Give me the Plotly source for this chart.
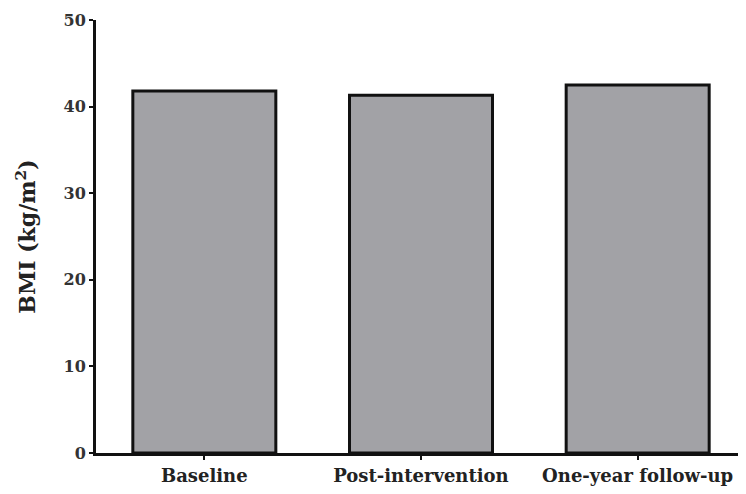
import plotly.graph_objects as go

categories = ["Baseline", "Post-intervention", "One-year follow-up"]
bmi_values = [41.8, 41.3, 42.5]
y_ticks = [0, 10, 20, 30, 40, 50]

fig = go.Figure()
fig.add_trace(go.Bar(
    x=categories,
    y=bmi_values,
    width=0.66,
    marker=dict(color="#a2a2a6", line=dict(color="#111111", width=3)),
))

font_family = "DejaVu Serif, Liberation Serif, serif"
# page body has an 8px default margin, so the figure is offset by 8px
fig.update_layout(
    width=738, height=486,
    margin=dict(l=88, r=0, t=12, b=41, autoexpand=False),
    paper_bgcolor="white", plot_bgcolor="white",
    showlegend=False,
    font=dict(family=font_family, size=15, color="#222222"),
)
fig.update_xaxes(
    range=[-0.5, 2.5],
    automargin=False,
    showline=True, linecolor="#111111", linewidth=3,
    ticks="outside", ticklen=4, tickwidth=2, tickcolor="#111111",
    tickfont=dict(family=font_family, size=18, color="#222222", weight="bold"),
    showgrid=False,
)
fig.update_yaxes(
    range=[0, 50],
    automargin=False,
    tickvals=y_ticks,
    showline=True, linecolor="#111111", linewidth=3,
    ticks="outside", ticklen=4, tickwidth=2, tickcolor="#111111",
    tickfont=dict(family=font_family, size=16, color="#333333", weight="bold"),
    showgrid=False, zeroline=False,
    title=dict(text="BMI (kg/m<sup>2</sup>)", standoff=22,
               font=dict(family=font_family, size=22, color="#222222", weight="bold")),
)

fig.write_html("out.html")
